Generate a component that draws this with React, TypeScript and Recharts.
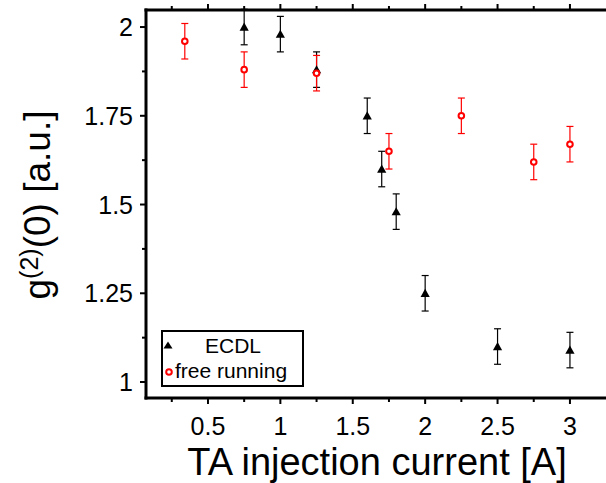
import React from 'react';
import { ScatterChart, Scatter, XAxis, YAxis, ErrorBar } from 'recharts';

const ecdlX = [0.75, 1.0, 1.25, 1.6, 1.7, 1.8, 2.0, 2.5, 3.0];
const ecdlY = [2.0, 1.98, 1.88, 1.75, 1.6, 1.48, 1.25, 1.1, 1.09];
const ecdlErr = [0.05, 0.05, 0.05, 0.05, 0.05, 0.05, 0.05, 0.05, 0.05];

const freeX = [0.34, 0.75, 1.25, 1.75, 2.25, 2.75, 3.0];
const freeY = [1.96, 1.88, 1.87, 1.65, 1.75, 1.62, 1.67];
const freeErr = [0.05, 0.05, 0.05, 0.05, 0.05, 0.05, 0.05];

const xTicks = [0.25, 0.5, 0.75, 1, 1.25, 1.5, 1.75, 2, 2.25, 2.5, 2.75, 3];
const yTicks = [1, 1.125, 1.25, 1.375, 1.5, 1.625, 1.75, 1.875, 2];
const xDomain: [number, number] = [0.072, 3.249];
const yDomain: [number, number] = [0.955, 2.048];

const ecdlData = ecdlX.map((x, i) => ({ x, y: ecdlY[i], err: ecdlErr[i] }));
const freeData = freeX.map((x, i) => ({ x, y: freeY[i], err: freeErr[i] }));

const FONT = '"Liberation Sans", Arial, Helvetica, sans-serif';

const isMultiple = (v: number, step: number) => Math.abs(v / step - Math.round(v / step)) < 1e-6;

const BottomTick = (props: any) => {
  const { x, y, payload } = props;
  const v = payload.value;
  const major = isMultiple(v, 0.5);
  return (
    <g>
      <line x1={x} x2={x} y1={y} y2={y + (major ? 6 : 4)} stroke="#000" strokeWidth={2} />
      {major && (
        <text x={x} y={y + 37} textAnchor="middle" fontSize={25} fontFamily={FONT} fill="#000">
          {String(v)}
        </text>
      )}
    </g>
  );
};

const TopTick = (props: any) => {
  const { x, y, payload } = props;
  const major = isMultiple(payload.value, 0.5);
  return <line x1={x} x2={x} y1={y} y2={y - (major ? 6 : 4)} stroke="#000" strokeWidth={2} />;
};

const LeftTick = (props: any) => {
  const { x, y, payload } = props;
  const v = payload.value;
  const major = isMultiple(v, 0.25);
  return (
    <g>
      <line x1={x} x2={x - (major ? 6 : 4)} y1={y} y2={y} stroke="#000" strokeWidth={2} />
      {major && (
        <text x={x - 13} y={y + 9} textAnchor="end" fontSize={25} fontFamily={FONT} fill="#000">
          {String(v)}
        </text>
      )}
    </g>
  );
};

const Triangle = (props: any) => {
  const { cx, cy } = props;
  return (
    <polygon
      points={`${cx},${cy - 4.5} ${cx + 4.6},${cy + 3.6} ${cx - 4.6},${cy + 3.6}`}
      fill="#000"
    />
  );
};

const OpenCircle = (props: any) => {
  const { cx, cy } = props;
  return <circle cx={cx} cy={cy} r={2.8} fill="#fff" stroke="#ff0000" strokeWidth={2} />;
};

const XLabel = (props: any) => {
  const vb = props.viewBox || { x: 146, y: 398, width: 460 };
  return (
    <text x={vb.x + vb.width / 2 + 1} y={vb.y + 77} textAnchor="middle" fontSize={38} fontFamily={FONT} fill="#000">
      TA injection current [A]
    </text>
  );
};

const YLabel = () => {
  const cx = 50;
  const cy = 205;
  return (
    <text
      x={cx}
      y={cy}
      transform={`rotate(-90, ${cx}, ${cy})`}
      textAnchor="middle"
      fontSize={37}
      fontFamily={FONT}
      fill="#000"
    >
      <tspan>g</tspan>
      <tspan fontSize={25} dy={-12}>(2)</tspan>
      <tspan dy={12}>(0) [a.u.]</tspan>
    </text>
  );
};

export default function App() {
  return (
    <div style={{ position: 'absolute', left: 0, top: 0, width: 606, height: 483, background: '#fff', overflow: 'hidden' }}>
      <ScatterChart width={606} height={483} margin={{ top: 5, right: 0, bottom: 0, left: 86 }}>
        <XAxis
          xAxisId="b"
          type="number"
          dataKey="x"
          domain={xDomain}
          allowDataOverflow
          ticks={xTicks}
          interval={0}
          orientation="bottom"
          height={85}
          tickSize={0}
          tickMargin={0}
          tickLine={false}
          tick={<BottomTick />}
          axisLine={{ stroke: '#000', strokeWidth: 3, strokeLinecap: 'square' }}
          label={<XLabel />}
        />
        <XAxis
          xAxisId="t"
          type="number"
          dataKey="x"
          domain={xDomain}
          allowDataOverflow
          ticks={xTicks}
          interval={0}
          orientation="top"
          height={5}
          tickSize={0}
          tickMargin={0}
          tickLine={false}
          tick={<TopTick />}
          axisLine={{ stroke: '#000', strokeWidth: 3, strokeLinecap: 'square' }}
        />
        <YAxis
          yAxisId="l"
          type="number"
          dataKey="y"
          domain={yDomain}
          allowDataOverflow
          ticks={yTicks}
          interval={0}
          width={60}
          tickSize={0}
          tickMargin={0}
          tickLine={false}
          tick={<LeftTick />}
          axisLine={{ stroke: '#000', strokeWidth: 3, strokeLinecap: 'square' }}
          label={<YLabel />}
        />
        <Scatter
          name="ECDL"
          data={ecdlData}
          xAxisId="b"
          yAxisId="l"
          shape={<Triangle />}
          isAnimationActive={false}
        >
          <ErrorBar dataKey="err" direction="y" width={3.5} stroke="#000" strokeWidth={1.2} isAnimationActive={false} />
        </Scatter>
        <Scatter
          name="free running"
          data={freeData}
          xAxisId="b"
          yAxisId="l"
          shape={<OpenCircle />}
          isAnimationActive={false}
        >
          <ErrorBar dataKey="err" direction="y" width={3.5} stroke="#ff0000" strokeWidth={1.2} isAnimationActive={false} />
        </Scatter>
      </ScatterChart>
      <svg
        width={606}
        height={483}
        style={{ position: 'absolute', left: 0, top: 0, pointerEvents: 'none' }}
      >
        <rect x={162} y={331} width={141} height={55} fill="#fff" stroke="#000" strokeWidth={2} />
        <polygon points="168,341.5 172.5,348.5 163.5,348.5" fill="#000" />
        <text x={233} y={353} textAnchor="middle" fontSize={21} fontFamily={FONT} fill="#000">ECDL</text>
        <circle cx={169} cy={372} r={2.8} fill="#fff" stroke="#ff0000" strokeWidth={2} />
        <text x={175} y={378} fontSize={21} fontFamily={FONT} fill="#000">free running</text>
      </svg>
    </div>
  );
}
